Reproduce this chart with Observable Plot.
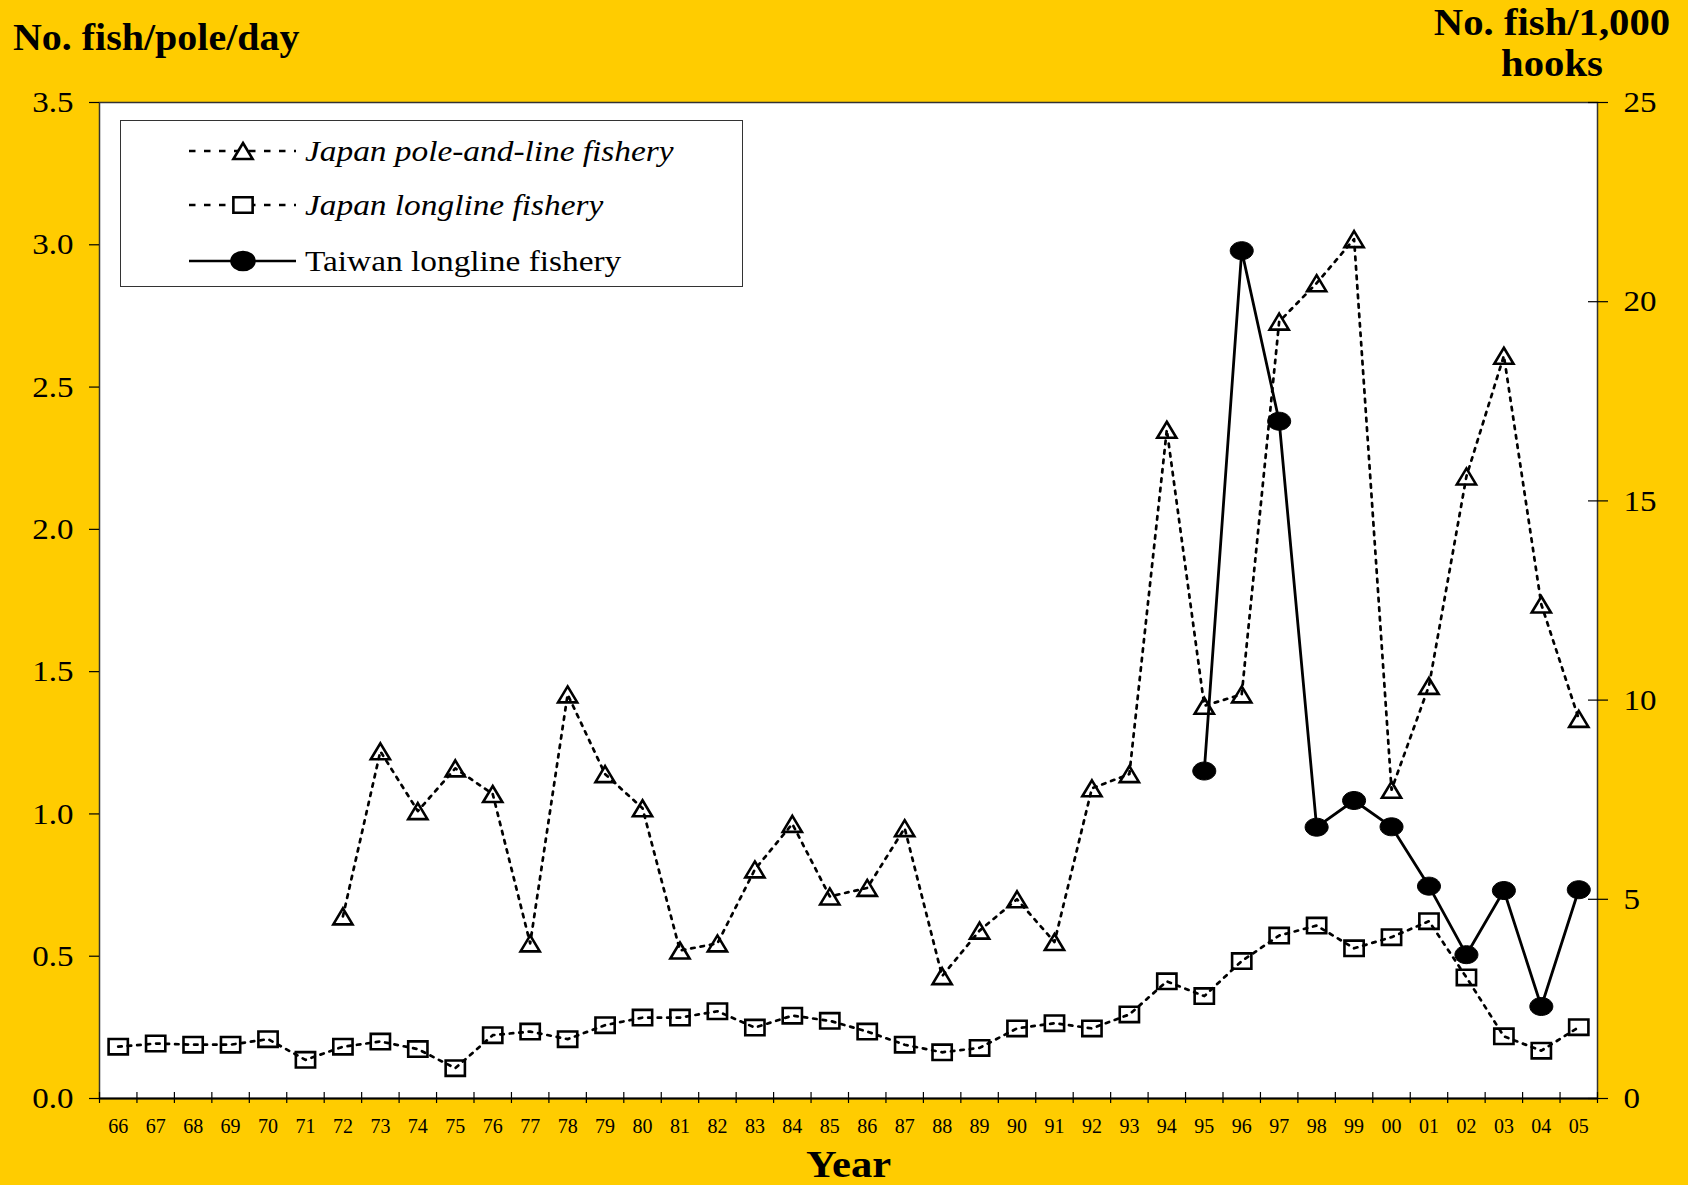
<!DOCTYPE html>
<html>
<head>
<meta charset="utf-8">
<script src="https://cdn.jsdelivr.net/npm/d3@7"></script>
<script src="https://cdn.jsdelivr.net/npm/@observablehq/plot@0.6"></script>
<style>
  html, body { margin: 0; padding: 0; background: #FFCC00; }
  #wrap { position: relative; width: 1688px; height: 1185px; overflow: hidden; background: #FFCC00; font-family: "Liberation Serif", "Times New Roman", serif; }
  #chart { position: absolute; left: 0; top: 0; }
  .title { position: absolute; font-weight: bold; font-size: 37px; color: #000; white-space: nowrap; line-height: 1; transform-origin: 0 0; }
  #legend { position: absolute; left: 120px; top: 120px; width: 621px; height: 165px; background: #fff; border: 1.5px solid #333; }
  .lrow { position: absolute; left: 0; height: 30px; width: 621px; }
  .lrow svg { position: absolute; left: 62px; top: 0; }
  .lrow span { position: absolute; left: 184px; top: 50%; transform: translateY(-50%) scaleX(1.15); transform-origin: 0 50%; font-size: 29px; white-space: nowrap; }
</style>
</head>
<body>
<div id="wrap">
  <div id="chart"></div>
  <div class="title" style="left:13px; top:19px; transform: scaleX(1.08);">No. fish/pole/day</div>
  <div class="title" style="left:1436px; top:2px; width:232px; text-align:center; line-height:41px; transform: scaleX(1.1); transform-origin: 50% 0;">No. fish/1,000<br>hooks</div>
  <div class="title" style="left:806px; top:1145px; font-size:38px; transform: scaleX(1.12);">Year</div>
  <div id="legend"></div>
</div>
<script>
// ---- Data ----
const yearLabels = ["66","67","68","69","70","71","72","73","74","75","76","77","78","79","80","81","82","83","84","85","86","87","88","89","90","91","92","93","94","95","96","97","98","99","00","01","02","03","04","05"];

// Japan pole-and-line fishery (No. fish/pole/day, left axis)
const japanPoleLine = [null,null,null,null,null,null,0.64,1.22,1.01,1.16,1.07,0.545,1.42,1.14,1.02,0.52,0.545,0.805,0.965,0.71,0.74,0.95,0.43,0.59,0.70,0.55,1.09,1.14,2.35,1.38,1.42,2.73,2.865,3.02,1.085,1.45,2.186,2.61,1.736,1.334];

// Japan longline fishery (No. fish/1,000 hooks, right axis)
const japanLongline = [1.30,1.38,1.35,1.35,1.49,0.97,1.30,1.43,1.24,0.76,1.59,1.68,1.49,1.84,2.03,2.03,2.19,1.78,2.08,1.95,1.68,1.35,1.16,1.27,1.76,1.89,1.76,2.11,2.94,2.57,3.45,4.09,4.34,3.77,4.05,4.45,3.04,1.56,1.20,1.79];

// Taiwan longline fishery (No. fish/1,000 hooks, right axis)
const taiwanLongline = [null,null,null,null,null,null,null,null,null,null,null,null,null,null,null,null,null,null,null,null,null,null,null,null,null,null,null,null,null,8.22,21.28,17.0,6.81,7.48,6.82,5.33,3.61,5.22,2.31,5.24];

const leftTicks = [0, 0.5, 1.0, 1.5, 2.0, 2.5, 3.0, 3.5];
const rightTicks = [0, 5, 10, 15, 20, 25];
const leftMax = 3.5, rightMax = 25;

const seriesNames = ["Japan pole-and-line fishery", "Japan longline fishery", "Taiwan longline fishery"];

// ---- Build ----
const k = leftMax / rightMax; // right-axis units -> left-axis units
const rows = yearLabels.map((label, i) => ({
  i, label,
  pole: japanPoleLine[i],
  jl: japanLongline[i] == null ? null : japanLongline[i] * k,
  tw: taiwanLongline[i] == null ? null : taiwanLongline[i] * k
}));
const boundaries = yearLabels.map((_, i) => i - 0.5).concat([yearLabels.length - 0.5]);

// custom marker symbols (slightly wide, as in the reference)
const rectSymbol = { draw(ctx, size) { const r = Math.sqrt(size / Math.PI); const hw = r * 1.25, hh = r; ctx.moveTo(-hw, -hh); ctx.lineTo(hw, -hh); ctx.lineTo(hw, hh); ctx.lineTo(-hw, hh); ctx.closePath(); } };
const triSymbol = { draw(ctx, size) { const r = Math.sqrt(size / Math.PI); const hw = r * 1.2, hh = r; ctx.moveTo(0, -hh); ctx.lineTo(hw, hh); ctx.lineTo(-hw, hh); ctx.closePath(); } };
const ellSymbol = { draw(ctx, size) { const r = Math.sqrt(size / Math.PI); const rx = r * 1.28, ry = r; const c = 0.5523; ctx.moveTo(rx, 0); ctx.bezierCurveTo(rx, c*ry, c*rx, ry, 0, ry); ctx.bezierCurveTo(-c*rx, ry, -rx, c*ry, -rx, 0); ctx.bezierCurveTo(-rx, -c*ry, -c*rx, -ry, 0, -ry); ctx.bezierCurveTo(c*rx, -ry, rx, -c*ry, rx, 0); ctx.closePath(); } };

const dash = "3.5,6";
const font = "Liberation Serif";

const chart = Plot.plot({
  width: 1688,
  height: 1185,
  marginLeft: 99,
  marginRight: 91,
  marginTop: 102,
  marginBottom: 87,
  style: { fontFamily: font, background: "transparent", color: "#000", overflow: "visible" },
  x: { domain: [-0.5, yearLabels.length - 0.5], axis: null },
  y: { domain: [0, leftMax], axis: null },
  marks: [
    Plot.frame({ fill: "white", stroke: "#333", strokeWidth: 1.5 }),
    // Japan longline
    Plot.line(rows, { x: "i", y: "jl", stroke: "black", strokeWidth: 2.7, strokeDasharray: dash }),
    Plot.dot(rows, { x: "i", y: "jl", symbol: rectSymbol, r: 7.7, fill: "none", stroke: "black", strokeWidth: 2.6 }),
    // Japan pole-and-line
    Plot.line(rows, { x: "i", y: "pole", stroke: "black", strokeWidth: 2.7, strokeDasharray: dash }),
    Plot.dot(rows, { x: "i", y: "pole", symbol: triSymbol, r: 8, fill: "none", stroke: "black", strokeWidth: 2.6 }),
    // Taiwan longline
    Plot.line(rows, { x: "i", y: "tw", stroke: "black", strokeWidth: 2.8 }),
    Plot.dot(rows, { x: "i", y: "tw", symbol: ellSymbol, r: 9, fill: "black", stroke: "black", strokeWidth: 1 }),
    Plot.ruleY([0], { stroke: "black", strokeWidth: 2.2 }),
    // bottom axis: labels at year centres, ticks at boundaries crossing the axis
    Plot.axisX(rows.map(d => d.i), { anchor: "bottom", tickSize: 0, tickPadding: 20, tickFormat: i => yearLabels[i], fontSize: 20, label: null }),
    Plot.axisX(boundaries, { anchor: "bottom", tickSize: 5, tickFormat: () => "", label: null, strokeWidth: 1.2 }),
    Plot.axisX(boundaries, { anchor: "bottom", tickSize: -6, tickFormat: () => "", label: null, strokeWidth: 1.2 }),
    // left axis
    Plot.axisY(leftTicks, { anchor: "left", tickSize: 10, tickPadding: 16, tickFormat: d3.format(".1f"), fontSize: 30, label: null, strokeWidth: 1.2 }),
    // right axis
    Plot.axisY(rightTicks.map(v => v * k), { anchor: "right", tickSize: 10, tickPadding: 16, tickFormat: d => String(Math.round(d / k)), fontSize: 30, label: null, strokeWidth: 1.2 }),
    Plot.axisY(rightTicks.map(v => v * k), { anchor: "right", tickSize: -10, tickFormat: () => "", label: null, strokeWidth: 1.2 })
  ]
});
document.getElementById("chart").appendChild(chart);

// widen the y tick labels slightly, as in the reference (stretched typeface)
d3.select(chart).selectAll('g[aria-label="y-axis tick label"] text').each(function () {
  const t = this.getAttribute("transform");
  if (t && t.indexOf("translate") >= 0) this.setAttribute("transform", t + " scale(1.1,1)");
});

// ---- Legend ----
const legend = document.getElementById("legend");
const legendItems = [
  { name: seriesNames[0], symbol: triSymbol, r: 8, fill: "none", dash: "6.5,8.5", italic: true, cy: 30 },
  { name: seriesNames[1], symbol: rectSymbol, r: 7.7, fill: "none", dash: "6.5,8.5", italic: true, cy: 84 },
  { name: seriesNames[2], symbol: ellSymbol, r: 9, fill: "black", dash: null, italic: false, cy: 140 }
];
for (const it of legendItems) {
  const row = document.createElement("div");
  row.className = "lrow";
  row.style.top = (it.cy - 15) + "px";
  const svg = d3.create("svg").attr("width", 120).attr("height", 30);
  svg.append("line").attr("x1", 6).attr("x2", 113).attr("y1", 15).attr("y2", 15)
    .attr("stroke", "black").attr("stroke-width", 2.4).attr("stroke-dasharray", it.dash);
  const p = d3.path();
  it.symbol.draw(p, Math.PI * it.r * it.r);
  svg.append("path").attr("d", p.toString()).attr("transform", "translate(60,15)")
    .attr("fill", it.fill === "none" ? "white" : it.fill).attr("stroke", "black").attr("stroke-width", 2.6);
  row.appendChild(svg.node());
  const span = document.createElement("span");
  span.textContent = it.name;
  if (it.italic) span.style.fontStyle = "italic";
  row.appendChild(span);
  legend.appendChild(row);
}
</script>
</body>
</html>
